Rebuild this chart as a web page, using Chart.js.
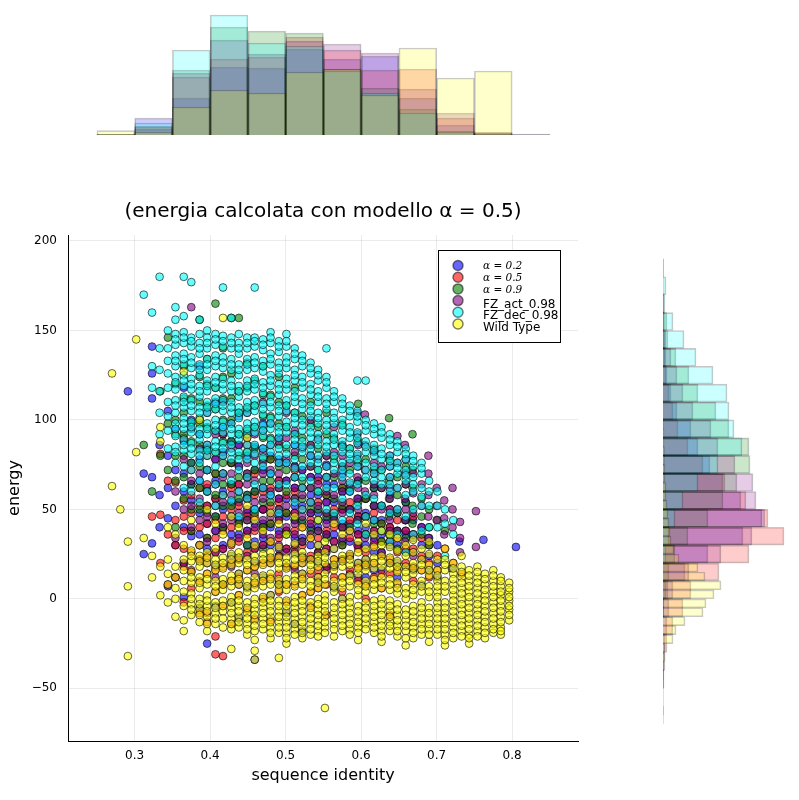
<!DOCTYPE html>
<html>
<head>
<meta charset="utf-8">
<script src="https://cdn.jsdelivr.net/npm/chart.js@4.4.0/dist/chart.umd.min.js"></script>
<style>
  body { margin: 0; background: #fff; }
  canvas { position: absolute; }
  #mainChart { left: 0; top: 0; }
  #topHist { left: 68px; top: 10px; }
  #rightHist { left: 663px; top: 235px; }
</style>
</head>
<body>
<canvas id="mainChart" width="799" height="800"></canvas>
<canvas id="topHist" width="510" height="125"></canvas>
<canvas id="rightHist" width="130" height="506"></canvas>
<script>
"use strict";

// series (drawing order: first at the bottom)
const seriesNames = ['α = 0.2', 'α = 0.5', 'α = 0.9', 'FZ_act_0.98', 'FZ_dec_0.98', 'Wild Type'];
const seriesRgb = ['0,0,255', '255,0,0', '0,128,0', '128,0,128', '0,255,255', '255,255,0'];

const xTicks = [0.3, 0.4, 0.5, 0.6, 0.7, 0.8];
const yTicks = [-50, 0, 50, 100, 150, 200];
const X_MIN = 0.2117, X_MAX = 0.8872;
const Y_MIN = -79.45, Y_MAX = 203.35;

// scatter points, per column of sequence identity: [identity, [energies]]
const blueCols = [
  [0.291, [116]], [0.312, [70, 25]], [0.323, [141, 126, 112, 68, 31]], [0.333, [86, 58, 40]],
  [0.344, [105, 80, 62, 45, 7]], [0.354, [95, 72, 52, 30, 12]], [0.365, [118, 88, 70, 60, 40, 20, 1]],
  [0.375, [100, 76, 64, 55, 35, 15]], [0.386, [130, 92, 78, 66, 48, 36, 22, -5]],
  [0.396, [84, 72, 62, 52, 42, 28, -25]], [0.407, [110, 78, 66, 56, 46, 38, 18, -4]],
  [0.417, [96, 82, 70, 60, 50, 40, 30, 8]], [0.428, [88, 76, 64, 54, 46, 36, 24, -2]],
  [0.438, [102, 86, 74, 64, 54, 44, 36, 14, -11]], [0.449, [92, 80, 68, 58, 48, 38, 30, 6]],
  [0.459, [85, 72, 60, 50, 42, 32, 20, -34]], [0.470, [98, 84, 72, 62, 50, 42, 34, 12]],
  [0.480, [80, 70, 58, 48, 40, 30, 22, 2]], [0.491, [90, 78, 66, 56, 46, 38, 28, 8]],
  [0.501, [76, 66, 56, 46, 38, 28, 18, -8]], [0.512, [86, 74, 62, 52, 44, 34, 26, -14]],
  [0.522, [72, 62, 52, 42, 34, 24, 14, -18]], [0.533, [80, 68, 58, 48, 40, 30, 22]],
  [0.543, [68, 58, 48, 40, 30, 20, 10]], [0.554, [75, 64, 54, 44, 36, 26, 18]],
  [0.564, [64, 54, 46, 36, 28, 18, 6]], [0.575, [70, 60, 50, 42, 32, 22, 0]],
  [0.585, [60, 50, 42, 32, 24, 14]], [0.596, [66, 56, 46, 38, 30, 20, 12]],
  [0.606, [56, 48, 40, 30, 22, 12]], [0.617, [62, 52, 44, 34, 26, 16]], [0.627, [52, 44, 36, 26, 16]],
  [0.638, [58, 48, 40, 30, 20]], [0.648, [48, 38, 30, 20, 12]], [0.659, [54, 44, 36, 26, 18]],
  [0.669, [44, 34, 26, 16]], [0.680, [40, 30, 22, 8]], [0.690, [34, 24, 16]], [0.701, [30, 20, 12]],
  [0.720, [17]], [0.730, [32]], [0.762, [33]], [0.805, [29]]
];
const redCols = [
  [0.323, [46]], [0.334, [81, 47, 20]], [0.344, [66, 36, 8]], [0.354, [65, 44, 30, 12]],
  [0.365, [90, 55, 46, 38, 28, 18, -2]], [0.375, [72, 58, 48, 38, 26, 16, 6]],
  [0.386, [100, 62, 52, 40, 30, 22, 10, -8]], [0.396, [80, 64, 52, 42, 34, 24, 14, -8, -13]],
  [0.407, [70, 56, 44, 34, 26, 16, 4, -21, -31]], [0.417, [92, 70, 58, 46, 38, 28, 18, 8, -4, -32]],
  [0.428, [76, 62, 50, 40, 30, 20, 10, -14]], [0.438, [64, 52, 42, 32, 22, 12, 2]],
  [0.449, [86, 68, 56, 46, 36, 26, 16, -6]], [0.459, [70, 58, 46, 38, 28, 18, 8, -11]],
  [0.470, [60, 50, 40, 30, 20, 10, 0]], [0.480, [78, 62, 52, 42, 32, 22, 12, -12]],
  [0.491, [66, 54, 44, 34, 24, 14, 4]], [0.501, [58, 48, 38, 28, 18, 8, -2]],
  [0.512, [72, 60, 48, 38, 28, 18, 8]], [0.522, [62, 50, 40, 30, 22, 12, 2]],
  [0.533, [54, 44, 34, 24, 14, 4, -4]], [0.543, [66, 54, 44, 34, 26, 16, 6]],
  [0.554, [58, 48, 38, 28, 18, 8, -9]], [0.564, [50, 40, 32, 22, 12]],
  [0.575, [62, 50, 40, 30, 22, 12, 4]], [0.585, [54, 44, 34, 24, 16]], [0.596, [46, 36, 28, 18, 10]],
  [0.606, [56, 46, 36, 26, 18, 8, 0]], [0.617, [48, 38, 30, 20, 12]], [0.627, [42, 32, 24, 14, 6]],
  [0.638, [50, 40, 32, 22, 14, -9]], [0.648, [44, 34, 26, 16, 8]], [0.659, [38, 28, 20]],
  [0.669, [46, 36, 28, 18, 10]], [0.680, [34, 24, 16]], [0.690, [30, 20, 12]], [0.701, [24, 16]],
  [0.711, [28]], [0.722, [20]], [0.733, [14]]
];
const greenCols = [
  [0.312, [86]], [0.323, [60]], [0.334, [116, 80]], [0.344, [146, 98, 72]],
  [0.354, [120, 100, 92, 80, 66, 40]], [0.365, [130, 112, 104, 92, 80, 68, 56]],
  [0.375, [112, 98, 88, 76, 64, 50, 38]], [0.386, [156, 124, 110, 98, 86, 74, 62, 50]],
  [0.396, [134, 120, 108, 96, 84, 72, 60, 48, 34]], [0.407, [165, 118, 106, 94, 82, 70, 58, 46]],
  [0.417, [140, 124, 112, 100, 88, 76, 64, 52, 40]], [0.428, [157, 126, 112, 100, 88, 76, 64, 52]],
  [0.438, [157, 116, 104, 92, 80, 68, 56, 42]], [0.449, [132, 118, 106, 94, 82, 70, 58, 44, 30]],
  [0.459, [122, 108, 96, 84, 72, 60, 48]], [0.470, [130, 114, 102, 90, 78, 66, 54, 40, 28]],
  [0.480, [114, 102, 90, 78, 66, 54, 42]], [0.491, [124, 110, 98, 86, 74, 62, 50]],
  [0.501, [108, 96, 84, 72, 60, 48, 36]], [0.512, [118, 104, 92, 80, 68, 56, 44]],
  [0.522, [102, 90, 78, 66, 56, 44, 32]], [0.533, [110, 98, 86, 74, 62, 50, 38]],
  [0.543, [96, 84, 72, 60, 50, 38, 26]], [0.554, [104, 92, 80, 68, 58, 46, 34]],
  [0.564, [90, 78, 68, 56, 46]], [0.575, [98, 86, 74, 62, 52, 40, 30]], [0.585, [84, 72, 62, 50, 40]],
  [0.596, [109, 88, 76, 66, 54, 44]], [0.606, [78, 66, 56, 46, 36]], [0.617, [84, 72, 62, 52, 42]],
  [0.627, [72, 62, 52, 42, 32]], [0.637, [101, 78, 66, 56, 46, 36]], [0.648, [68, 58, 48, 38, 28]],
  [0.659, [74, 64, 54, 44, 34]], [0.668, [92, 72, 62, 52, 42]], [0.680, [56, 46, 36]],
  [0.690, [50, 40, 30]], [0.701, [44]], [0.711, [38]]
];
const purpleCols = [
  [0.354, [60, 34]], [0.365, [78, 50, 20]], [0.375, [163, 95, 66, 52, 40]], [0.386, [84, 70, 56, 44, 30]],
  [0.396, [104, 86, 72, 60, 46, 32, 20]], [0.407, [92, 78, 64, 52, 38, 26, 12]],
  [0.417, [110, 92, 80, 68, 54, 42, 28]], [0.428, [98, 84, 70, 58, 44, 32, 18]],
  [0.438, [86, 74, 60, 48, 34, 22, 8]], [0.449, [104, 90, 76, 64, 50, 38, 24]],
  [0.459, [92, 80, 66, 54, 40, 28, 14]], [0.470, [110, 94, 82, 70, 56, 44, 30]],
  [0.480, [98, 86, 72, 60, 46, 34, 20]], [0.491, [88, 76, 62, 50, 36, 24, 10]],
  [0.501, [104, 90, 78, 66, 52, 40, 26]], [0.512, [94, 82, 68, 56, 42, 30, 16]],
  [0.522, [84, 72, 58, 46, 32, 20]], [0.533, [100, 86, 74, 62, 48, 36, 22]],
  [0.543, [90, 78, 64, 52, 38, 26, 12]], [0.554, [80, 68, 54, 42, 28, 16]],
  [0.564, [96, 82, 70, 58, 44, 32, 18]], [0.575, [86, 74, 60, 48, 34, 22]], [0.585, [76, 64, 50, 38, 24]],
  [0.595, [104, 92, 80, 68, 56, 44, 30]], [0.605, [103, 86, 72, 60, 46, 34, 20]],
  [0.617, [82, 70, 58, 44, 32]], [0.627, [74, 62, 50, 38, 26]], [0.638, [80, 68, 56, 44, 32, 20]],
  [0.648, [91, 76, 62, 50, 38]], [0.658, [86, 70, 56, 44, 32]], [0.669, [70, 59, 48, 36, 24]],
  [0.680, [64, 52, 40]], [0.689, [80, 70, 58, 46, 34]], [0.700, [62, 52, 44]], [0.710, [55, 45, 36]],
  [0.721, [62, 50, 40]], [0.731, [43, 34, 26]], [0.752, [49, 29]],
  [0.449, [70, 56, 44]], [0.470, [76, 62, 50, 36]], [0.491, [70, 56, 44, 30]], [0.512, [74, 62, 48, 36]],
  [0.533, [80, 68, 54, 42]], [0.554, [74, 60, 48, 36]], [0.575, [80, 66, 54, 40]],
  [0.596, [86, 74, 62, 50, 36]], [0.617, [76, 64, 52, 38]], [0.638, [74, 62, 50, 38]],
  [0.659, [78, 64, 50, 38]]
];
const cyanCols = [
  [0.312, [170]], [0.323, [160, 130, 118]], [0.333, [180, 140, 128, 116, 104, 92]],
  [0.344, [150, 140, 133, 126, 118, 110, 102, 94, 84]],
  [0.354, [163, 156, 148, 142, 136, 130, 124, 117, 111, 104, 98, 91, 85, 76]],
  [0.365, [180, 158, 149, 143, 137, 131, 125, 119, 113, 107, 101, 95, 89, 83, 74, 62]],
  [0.375, [177, 146, 141, 135, 129, 123, 117, 111, 105, 99, 93, 87, 81, 72, 60]],
  [0.386, [156, 148, 143, 137, 131, 125, 119, 113, 107, 101, 95, 89, 83, 76, 66, 54]],
  [0.396, [150, 146, 140, 134, 128, 122, 116, 110, 104, 98, 92, 86, 80, 72, 60]],
  [0.407, [148, 142, 136, 130, 124, 118, 112, 106, 100, 94, 88, 82, 74, 64, 52]],
  [0.417, [174, 147, 141, 135, 129, 123, 117, 111, 105, 99, 93, 87, 80, 70, 58]],
  [0.428, [157, 146, 140, 134, 128, 122, 116, 110, 104, 98, 92, 86, 78, 66, 55]],
  [0.438, [148, 143, 137, 131, 125, 119, 113, 107, 101, 95, 89, 82, 72, 60, 46]],
  [0.449, [146, 140, 134, 128, 122, 116, 110, 104, 98, 92, 86, 78, 68, 56]],
  [0.459, [174, 146, 141, 135, 129, 123, 117, 111, 105, 99, 93, 86, 76, 64, 50]],
  [0.470, [145, 139, 133, 127, 121, 115, 109, 103, 97, 91, 84, 74, 62]],
  [0.480, [149, 143, 137, 131, 125, 119, 113, 107, 101, 95, 89, 82, 70, 58]],
  [0.491, [144, 138, 132, 126, 120, 114, 108, 102, 96, 90, 84, 76, 64, 48]],
  [0.501, [148, 141, 135, 129, 123, 117, 111, 105, 99, 93, 86, 76, 64]],
  [0.512, [140, 134, 128, 122, 116, 110, 104, 98, 92, 86, 78, 68, 54]],
  [0.522, [136, 130, 124, 118, 112, 106, 100, 94, 88, 82, 74, 62, 50]],
  [0.533, [132, 126, 120, 114, 108, 102, 96, 90, 84, 76, 66, 54]],
  [0.543, [128, 122, 116, 110, 104, 98, 92, 86, 80, 72, 60, 44]],
  [0.554, [140, 124, 118, 112, 106, 100, 94, 88, 82, 74, 62, 50]],
  [0.564, [116, 110, 104, 98, 92, 86, 80, 72, 62, 48]],
  [0.575, [112, 106, 100, 94, 88, 82, 76, 68, 56, 44]],
  [0.585, [108, 102, 96, 90, 84, 78, 70, 60, 48]],
  [0.595, [122, 105, 99, 93, 87, 81, 74, 64, 52, 42]],
  [0.606, [122, 100, 94, 88, 82, 76, 68, 58, 46, 36]],
  [0.617, [98, 92, 86, 80, 74, 66, 56, 44]], [0.627, [96, 90, 84, 78, 72, 64, 52, 38]],
  [0.638, [92, 86, 80, 74, 68, 60, 48, 32]], [0.648, [88, 82, 76, 70, 62, 50, 36]],
  [0.659, [84, 78, 72, 66, 58, 46, 26]], [0.669, [80, 74, 68, 60, 50, 36]],
  [0.680, [76, 70, 62, 52, 38]], [0.690, [66, 60, 52, 40]], [0.701, [60, 52, 40]],
  [0.711, [50, 42, 24]], [0.722, [44, 36]],
  // in-between points of the dense core
  [0.354, [145, 133, 121, 108, 95, 82]], [0.365, [146, 134, 122, 110, 98, 86]],
  [0.375, [144, 132, 120, 108, 96, 84]], [0.386, [140, 128, 116, 104, 92, 80]],
  [0.396, [143, 131, 119, 107, 95, 83]], [0.407, [145, 133, 121, 109, 97, 85]],
  [0.417, [144, 132, 120, 108, 96, 84]], [0.428, [143, 131, 119, 107, 95, 82]],
  [0.438, [140, 128, 116, 104, 92, 78]], [0.449, [143, 131, 119, 107, 95, 82]],
  [0.459, [144, 132, 120, 108, 96, 81]], [0.470, [142, 130, 118, 106, 94, 79]],
  [0.480, [146, 134, 122, 110, 98, 86]], [0.491, [141, 129, 117, 105, 93, 80]],
  [0.501, [144, 132, 120, 108, 96, 81]], [0.512, [137, 125, 113, 101, 89, 73]],
  [0.522, [133, 121, 109, 97, 85, 68]], [0.533, [129, 117, 105, 93, 80]],
  [0.543, [125, 113, 101, 89, 76]], [0.554, [121, 109, 97, 85, 68]], [0.564, [113, 101, 89, 76]],
  [0.575, [109, 97, 85, 72]], [0.585, [105, 93, 81, 65]], [0.595, [102, 90, 78]],
  [0.606, [97, 85, 72]], [0.617, [95, 83, 70]], [0.627, [93, 81, 68]], [0.638, [89, 77, 64]],
  [0.648, [85, 73]], [0.659, [81, 69]], [0.669, [77, 64]], [0.680, [73, 57]]
];
const yellowCols = [
  [0.270, [126, 63]], [0.281, [50]], [0.291, [32, 7, -32]], [0.302, [145, 82]], [0.312, [34]],
  [0.323, [24, 12]], [0.334, [96, 88, 18, 2]], [0.344, [40, 22, 14, 8, -2]],
  [0.354, [36, 18, 12, 6, 0, -10]], [0.365, [127, 30, 22, 16, 10, 4, -4, -12, -18]],
  [0.375, [44, 27, 21, 15, 9, 3, -3, -9]], [0.386, [100, 30, 24, 18, 12, 6, 0, -6, -13]],
  [0.396, [50, 26, 20, 14, 8, 2, -4, -10, -18]], [0.407, [42, 28, 22, 16, 10, 4, -2, -8, -14]],
  [0.417, [157, 36, 23, 17, 11, 5, -1, -7, -16]],
  [0.428, [46, 31, 25, 19, 13, 7, 1, -5, -11, -17, -28]],
  [0.438, [40, 26, 20, 14, 8, 2, -4, -10, -16]],
  [0.449, [90, 52, 34, 22, 16, 10, 4, -2, -8, -14, -20]],
  [0.459, [44, 30, 24, 18, 12, 6, 0, -6, -12, -18, -23, -29, -34]],
  [0.470, [38, 25, 19, 13, 7, 1, -5, -11, -17]],
  [0.480, [48, 32, 26, 20, 14, 8, 2, -4, -10, -16, -22]],
  [0.491, [42, 29, 23, 17, 11, 5, -1, -7, -13, -19, -33]],
  [0.501, [36, 23, 17, 11, 5, -1, -7, -13, -19, -25]],
  [0.512, [46, 31, 25, 19, 13, 7, 1, -5, -11, -17]],
  [0.522, [40, 26, 20, 14, 8, 2, -4, -10, -16, -22]],
  [0.533, [34, 22, 16, 10, 4, -2, -8, -14, -20]],
  [0.543, [44, 30, 24, 18, 12, 6, 0, -6, -12, -18]],
  [0.552, [32, 26, 20, 14, 8, 2, -4, -10, -16, -61]],
  [0.564, [42, 28, 22, 16, 10, 4, -2, -8, -14, -21]],
  [0.575, [36, 24, 18, 12, 6, 0, -6, -12, -18]],
  [0.585, [38, 25, 19, 13, 7, 1, -5, -11, -17]],
  [0.596, [32, 26, 20, 14, 8, 2, -4, -10, -16, -23]],
  [0.606, [42, 28, 22, 16, 10, 4, -2, -8, -14]],
  [0.617, [36, 29, 23, 17, 11, 5, -1, -7, -13, -19]],
  [0.627, [38, 30, 24, 18, 12, 6, 0, -6, -12, -18, -24]],
  [0.638, [36, 29, 23, 17, 11, 5, -1, -7, -13, -18]],
  [0.648, [34, 27, 21, 15, 9, 3, -3, -9, -15, -21]],
  [0.659, [30, 24, 18, 12, 6, 0, -6, -12, -18, -26]],
  [0.669, [33, 26, 20, 14, 8, 2, -4, -10, -16, -22]],
  [0.680, [28, 22, 16, 10, 4, -2, -8, -14, -20]],
  [0.690, [32, 25, 19, 13, 7, 1, -5, -11, -17, -24]],
  [0.701, [22, 16, 10, 4, -2, -8, -14, -20]],
  [0.711, [28, 22, 16, 10, 4, -2, -8, -14, -20, -26]],
  [0.722, [20, 14, 8, 2, -4, -10, -16, -22]],
  [0.733, [24, 18, 12, 6, 0, -6, -12, -18]],
  [0.743, [16, 10, 4, -2, -8, -14, -20, -25]],
  [0.754, [18, 12, 6, 0, -6, -12, -18]],
  [0.764, [14, 8, 2, -4, -10, -16, -22]],
  [0.775, [16, 10, 4, -2, -8, -14, -19]],
  [0.785, [12, 7, 2, -4, -10, -16, -20]],
  [0.796, [9, 4, -1, -6, -12]],
  // in-between points of the dense core
  [0.375, [24, 12, 0, -6]], [0.386, [21, 9, -3, -9]], [0.396, [23, 11, -1, -7, -14]],
  [0.407, [19, 7, -5, -11]], [0.417, [20, 8, -4, -11]], [0.428, [22, 10, -2, -8, -14]],
  [0.438, [23, 11, -1, -7, -13]], [0.449, [19, 7, -5, -11, -17]], [0.459, [21, 9, -3, -9, -15]],
  [0.470, [22, 10, -2, -8, -14]], [0.480, [23, 11, -1, -7, -13, -19]], [0.491, [20, 8, -4, -10, -16]],
  [0.501, [20, 8, -4, -10, -16, -22]], [0.512, [22, 10, -2, -8, -14, -20]],
  [0.522, [23, 11, -1, -7, -13, -19]], [0.533, [19, 7, -5, -11, -17]],
  [0.543, [21, 9, -3, -9, -15, -21]], [0.552, [23, 11, -1, -7, -13, -19]],
  [0.564, [19, 7, -5, -11, -17]], [0.575, [21, 9, -3, -9, -15]], [0.585, [22, 10, -2, -8, -14, -20]],
  [0.596, [17, 5, -7, -13, -19]], [0.606, [19, 7, -5, -11, -17]], [0.617, [20, 8, -4, -10, -16]],
  [0.627, [21, 9, -3, -9, -15, -21]], [0.638, [20, 8, -4, -10, -15]], [0.648, [18, 6, -6, -12, -18]],
  [0.659, [15, 3, -9, -15, -22]], [0.669, [17, 5, -7, -13, -19]], [0.680, [19, 7, -5, -11, -17]],
  [0.690, [16, 4, -8, -14, -20]], [0.701, [13, 7, 1, -5, -11, -17]],
  [0.711, [19, 7, -5, -11, -17, -23]], [0.722, [17, 11, 5, -1, -7, -13, -19]],
  [0.733, [15, 9, 3, -3, -9, -15, -21]], [0.743, [13, 7, 1, -5, -11, -17, -22]],
  [0.754, [15, 9, 3, -3, -9, -15, -21]], [0.764, [11, 5, -1, -7, -13, -19]],
  [0.775, [13, 7, 1, -5, -11, -17]], [0.785, [10, 4, -1, -7, -13, -18]], [0.796, [6, 1, -4, -9]]
];
const scatterCols = [blueCols, redCols, greenCols, purpleCols, cyanCols, yellowCols];

// top marginal histogram (sequence identity, bins of 0.05)
const topBins = [0.275, 0.325, 0.375, 0.425, 0.475, 0.525, 0.575, 0.625, 0.675, 0.725, 0.775, 0.825];
const topBlue   = [0.5, 17, 37, 68, 67, 86, 76, 79, 37, 10, 1.5, 1];
const topRed    = [0.5, 8, 58, 76, 78, 98, 85, 65, 66, 17, 3, 0];
const topGreen  = [0.3, 9, 65, 108, 104, 102, 66, 47, 26, 4, 1, 0];
const topPurple = [0.3, 6, 62, 95, 81, 94, 91, 82, 46, 22, 2, 0];
const topCyan   = [0.3, 12, 85, 120, 92, 89, 64, 42, 22, 3, 0.5, 0];
const topYellow = [4.3, 3, 28, 45, 42, 63, 66, 40, 87, 57, 64, 0.5];
const topCounts = [topBlue, topRed, topGreen, topPurple, topCyan, topYellow];

// right marginal histogram (energy): bins of 10, wild type in bins of 5
const rightBins10 = [-65, -55, -45, -35, -25, -15, -5, 5, 15, 25, 35, 45, 55, 65, 75, 85, 95, 105, 115, 125, 135, 145, 155, 165, 175, 185];
const rightBlue   = [0.3, 0.3, 0.5, 1, 2, 4, 6, 10, 22, 45, 80, 102, 78, 60, 47, 35, 28, 14, 8, 4, 3, 2, 1.5, 0.5, 0.3, 0.3];
const rightRed    = [0, 0, 1, 2, 4, 10, 20, 28, 56, 86, 121, 105, 83, 62, 40, 25, 15, 10, 6, 3, 2, 1, 0, 0, 0, 0];
const rightGreen  = [0, 0, 0, 0, 0, 0, 1, 3, 6, 12, 25, 45, 60, 74, 87, 86, 66, 53, 35, 26, 13, 5, 4, 1, 0, 0];
const rightPurple = [0, 0, 0, 0, 0, 0, 1, 5, 26, 58, 89, 99, 93, 90, 72, 55, 48, 30, 20, 14, 8, 3, 1, 0, 0, 0];
const rightCyan   = [0, 0, 0, 0, 0, 0, 0, 0, 0, 3, 6, 12, 20, 35, 55, 79, 71, 66, 64, 50, 33, 21, 10, 2, 3, 0.5];
const rightBins5 = [-62.5, -57.5, -52.5, -47.5, -42.5, -37.5, -32.5, -27.5, -22.5, -17.5, -12.5, -7.5, -2.5, 2.5, 7.5, 12.5, 17.5, 22.5, 27.5, 32.5, 37.5, 42.5, 47.5, 52.5, 57.5, 62.5, 67.5, 72.5, 77.5, 82.5, 87.5, 92.5, 97.5];
const rightYellow = [0.5, 0, 0, 0, 0.5, 1, 2, 2, 10, 13, 22, 40, 43, 51, 58, 42, 35, 16, 11, 8, 7, 6, 5, 4, 3, 3, 2, 2, 1.5, 1.5, 1, 1, 0.5];
const rightCounts = [rightBlue, rightRed, rightGreen, rightPurple, rightCyan, rightYellow];
const rightBinsOf = [rightBins10, rightBins10, rightBins10, rightBins10, rightBins10, rightBins5];
const rightWidthOf = [10, 10, 10, 10, 10, 5];

const FONT = "'DejaVu Sans', sans-serif";

function toPoints(cols) {
    return cols.flatMap(col => col[1].map(e => ({ x: col[0], y: e })));
}

// title and legend drawn inside the main chart
const decorPlugin = {
    id: 'decor',
    afterDraw(chart) {
        const ctx = chart.ctx;
        const area = chart.chartArea;
        ctx.save();
        ctx.fillStyle = '#000';
        ctx.font = '20px ' + FONT;
        ctx.textAlign = 'center';
        ctx.textBaseline = 'middle';
        ctx.fillText('(energia calcolata con modello α = 0.5)', (area.left + area.right) / 2, 212);

        // legend box
        ctx.fillStyle = '#fff';
        ctx.fillRect(438.5, 250.5, 122, 92);
        ctx.strokeStyle = '#000';
        ctx.lineWidth = 1;
        ctx.strokeRect(438.5, 250.5, 122, 92);
        seriesNames.forEach((name, i) => {
            const cy = 265.5 + i * 11.7;
            ctx.beginPath();
            ctx.arc(458, cy, 5, 0, Math.PI * 2);
            ctx.fillStyle = 'rgba(' + seriesRgb[i] + ',0.6)';
            ctx.fill();
            ctx.strokeStyle = 'rgba(0,0,0,0.5)';
            ctx.lineWidth = 1.5;
            ctx.stroke();
            ctx.fillStyle = '#000';
            ctx.textAlign = 'left';
            if (i < 3) {
                ctx.font = 'italic 10.5px "DejaVu Serif", serif';
                ctx.fillText(name, 483, cy + 1);
            } else {
                ctx.font = '12px ' + FONT;
                ctx.fillText(name, 483, cy + 4);
            }
        });
        ctx.restore();
    }
};

new Chart(document.getElementById('mainChart'), {
    type: 'scatter',
    data: {
        datasets: seriesNames.map((name, i) => ({
            label: name,
            data: toPoints(scatterCols[i]),
            backgroundColor: 'rgba(' + seriesRgb[i] + ',0.6)',
            borderColor: 'rgba(0,0,0,0.6)',
            borderWidth: 1,
            pointRadius: 3.9,
            order: seriesNames.length - i
        }))
    },
    options: {
        responsive: false,
        animation: false,
        layout: { padding: { top: 235, right: 221, left: 0, bottom: 0 } },
        plugins: { legend: { display: false }, tooltip: { enabled: false } },
        scales: {
            x: {
                type: 'linear',
                min: X_MIN,
                max: X_MAX,
                afterBuildTicks: scale => { scale.ticks = xTicks.map(v => ({ value: v })); },
                afterFit: scale => { scale.height = 59; },
                grid: { color: 'rgba(0,0,0,0.08)', drawTicks: false },
                border: { color: '#000', width: 1 },
                ticks: {
                    padding: 8,
                    color: '#000',
                    font: { family: FONT, size: 12 },
                    callback: v => v.toFixed(1)
                },
                title: {
                    display: true,
                    text: 'sequence identity',
                    color: '#000',
                    font: { family: FONT, size: 16 },
                    padding: { top: 4, bottom: 15 }
                }
            },
            y: {
                type: 'linear',
                min: Y_MIN,
                max: Y_MAX,
                afterBuildTicks: scale => { scale.ticks = yTicks.map(v => ({ value: v })); },
                afterFit: scale => { scale.width = 68; },
                grid: { color: 'rgba(0,0,0,0.08)', drawTicks: false },
                border: { color: '#000', width: 1 },
                ticks: {
                    padding: 11,
                    color: '#000',
                    font: { family: FONT, size: 12 },
                    callback: v => (v < 0 ? '\u2212' + Math.abs(v) : String(v))
                },
                title: {
                    display: true,
                    text: 'energy',
                    color: '#000',
                    font: { family: FONT, size: 16 },
                    padding: { top: 5, bottom: 4 }
                }
            }
        }
    },
    plugins: [decorPlugin]
});

// top histogram
const topCanvas = document.getElementById('topHist');
const topThickness = 0.05 * topCanvas.width / (X_MAX - X_MIN);
new Chart(topCanvas, {
    type: 'bar',
    data: {
        datasets: seriesNames.map((name, i) => ({
            label: name,
            data: topBins.map((b, k) => ({ x: b, y: topCounts[i][k] })),
            backgroundColor: 'rgba(' + seriesRgb[i] + ',0.2)',
            borderColor: 'rgba(0,0,0,0.22)',
            borderWidth: 1,
            borderSkipped: 'bottom',
            barThickness: topThickness,
            grouped: false,
            order: seriesNames.length - i
        }))
    },
    options: {
        responsive: false,
        animation: false,
        layout: { padding: 0 },
        plugins: { legend: { display: false }, tooltip: { enabled: false } },
        scales: {
            x: { type: 'linear', min: X_MIN, max: X_MAX, offset: false, display: false },
            y: { type: 'linear', min: 0, max: 125, display: false }
        }
    }
});

// right histogram
const rightCanvas = document.getElementById('rightHist');
const pxPerEnergy = rightCanvas.height / (Y_MAX - Y_MIN);
new Chart(rightCanvas, {
    type: 'bar',
    data: {
        datasets: seriesNames.map((name, i) => ({
            label: name,
            data: rightBinsOf[i].map((b, k) => ({ x: rightCounts[i][k], y: b })),
            backgroundColor: 'rgba(' + seriesRgb[i] + ',0.2)',
            borderColor: 'rgba(0,0,0,0.22)',
            borderWidth: 1,
            borderSkipped: 'left',
            barThickness: rightWidthOf[i] * pxPerEnergy,
            grouped: false,
            order: seriesNames.length - i
        }))
    },
    options: {
        indexAxis: 'y',
        responsive: false,
        animation: false,
        layout: { padding: 0 },
        plugins: { legend: { display: false }, tooltip: { enabled: false } },
        scales: {
            x: { type: 'linear', min: 0, max: 130, display: false },
            y: { type: 'linear', min: Y_MIN, max: Y_MAX, offset: false, display: false }
        }
    }
});
</script>
</body>
</html>
